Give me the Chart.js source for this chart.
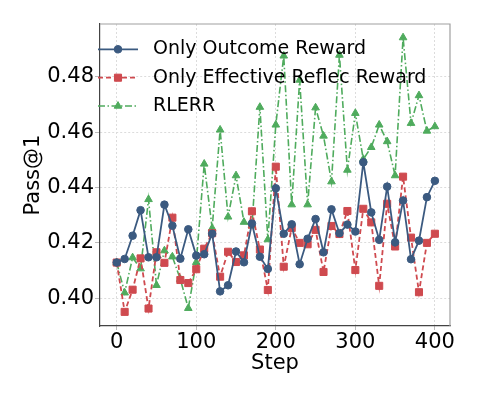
<!DOCTYPE html>
<html><head><meta charset="utf-8">
<script src="https://cdn.jsdelivr.net/npm/chart.js@4/dist/chart.umd.min.js"></script>
<style>html,body{margin:0;padding:0;background:#fff}#wrap{width:478px;height:399px;position:relative}</style>
</head><body><div id="wrap"><canvas id="c" width="478" height="399"></canvas></div>
<script>
const steps = [0,10,20,30,40,50,60,70,80,90,100,110,120,130,140,150,160,170,180,190,200,210,220,230,240,250,260,270,280,290,300,310,320,330,340,350,360,370,380,390,400];
const outcomeReward = [0.4129,0.4142,0.4226,0.4318,0.4148,0.4148,0.4338,0.4262,0.4143,0.4249,0.4154,0.4159,0.4233,0.4025,0.4047,0.4169,0.4130,0.4270,0.4150,0.4106,0.4397,0.4233,0.4267,0.4123,0.4215,0.4286,0.4166,0.4321,0.4235,0.4266,0.4241,0.4491,0.4310,0.4211,0.4403,0.4202,0.4353,0.4141,0.4208,0.4365,0.4424];
const effectiveReward = [0.4129,0.3951,0.4031,0.4144,0.3963,0.4166,0.4128,0.4291,0.4066,0.4055,0.4105,0.4179,0.4235,0.4078,0.4168,0.4131,0.4155,0.4314,0.4176,0.4030,0.4475,0.4114,0.4254,0.4200,0.4195,0.4247,0.4095,0.4261,0.4232,0.4315,0.4102,0.4323,0.4274,0.4045,0.4341,0.4187,0.4439,0.4219,0.4022,0.4200,0.4233];
const rlerr = [0.4129,0.4020,0.4147,0.4107,0.4357,0.4047,0.4172,0.4150,0.4069,0.3964,0.4130,0.4485,0.4253,0.4608,0.4294,0.4443,0.4275,0.4262,0.4690,0.4212,0.4626,0.4875,0.4338,0.4788,0.4338,0.4688,0.4586,0.4421,0.4878,0.4463,0.4668,0.4502,0.4545,0.4626,0.4566,0.4443,0.4941,0.4632,0.4732,0.4604,0.4620];
const seriesNames = ['Only Outcome Reward','Only Effective Reflec Reward','RLERR'];
const xTicks = [0,100,200,300,400];
const yTicks = [0.40,0.42,0.44,0.46,0.48];

const FONT = 'DejaVu Sans';
const pts = arr => steps.map((s,i)=>({x:s,y:arr[i]}));

const legendPlugin = {
  id:'inlineLegend',
  afterDatasetsDraw(chart){
    const {ctx, chartArea:a} = chart;
    const rows = [a.top+25.3, a.top+53.7, a.top+82];
    chart.data.datasets.forEach((ds,i)=>{
      const y = rows[i];
      ctx.save();
      ctx.strokeStyle = ds.borderColor;
      ctx.lineWidth = ds.borderWidth;
      ctx.setLineDash(ds.borderDash||[]);
      ctx.beginPath(); ctx.moveTo(a.left-2,y); ctx.lineTo(a.left+38,y); ctx.stroke();
      ctx.setLineDash([]);
      ctx.fillStyle = ds.backgroundColor; ctx.strokeStyle = ds.borderColor; ctx.lineWidth = 1;
      Chart.helpers.drawPoint(ctx,{pointStyle:ds.pointStyle,radius:ds.pointRadius,borderWidth:1},a.left+18,y);
      ctx.fillStyle = '#000';
      ctx.font = '19px "'+FONT+'"';
      ctx.textBaseline = 'middle';
      ctx.textAlign = 'left';
      ctx.fillText(seriesNames[i], a.left+53, y);
      ctx.restore();
    });
  }
};
const framePlugin = {
  id:'frame',
  beforeDatasetsDraw(chart){
    const {ctx, chartArea:a} = chart;
    ctx.save();
    ctx.strokeStyle = '#a0a0a0'; ctx.lineWidth = 1.2;
    ctx.beginPath(); ctx.moveTo(a.left,a.top); ctx.lineTo(a.right,a.top); ctx.lineTo(a.right,a.bottom); ctx.stroke();
    ctx.restore();
  }
};

new Chart(document.getElementById('c'),{
  type:'line',
  data:{datasets:[
    {label:seriesNames[0],data:pts(outcomeReward),borderColor:'#3b5a80',backgroundColor:'#3b5a80',borderWidth:1.8,pointStyle:'circle',pointRadius:3.8,pointBorderWidth:1,tension:0},
    {label:seriesNames[1],data:pts(effectiveReward),borderColor:'#cf4a4f',backgroundColor:'#cf4a4f',borderWidth:1.8,borderDash:[5,3],pointStyle:'rect',pointRadius:5,pointBorderWidth:1,tension:0},
    {label:seriesNames[2],data:pts(rlerr),borderColor:'#4fab5d',backgroundColor:'#4fab5d',borderWidth:1.6,borderDash:[7,2.5,1.5,2.5],pointStyle:'triangle',pointRadius:4.4,pointBorderWidth:1,tension:0}
  ]},
  options:{
    responsive:false, animation:false, devicePixelRatio:1,
    layout:{padding:{left:0,right:28,top:24,bottom:0}},
    plugins:{legend:{display:false},tooltip:{enabled:false}},
    scales:{
      x:{type:'linear',min:-21,max:419,
        afterBuildTicks:s=>{s.ticks = xTicks.map(v=>({value:v}));},
        afterFit:s=>{s.height = 73;},
        grid:{color:'#dcdcdc',lineWidth:1,tickLength:4,tickColor:'#bbbbbb'},
        border:{color:'#444444',width:1.2,dash:[2,2]},
        ticks:{color:'#000',font:{family:FONT,size:21},padding:0,maxRotation:0,callback:v=>String(v)},
        title:{display:true,text:'Step',color:'#000',font:{family:FONT,size:21},padding:{top:0,bottom:23}}
      },
      y:{type:'linear',min:0.390,max:0.499,
        afterBuildTicks:s=>{s.ticks = yTicks.map(v=>({value:v}));},
        afterFit:s=>{s.width = 100;},
        grid:{color:'#dcdcdc',lineWidth:1,tickLength:5,tickColor:'#bbbbbb'},
        border:{color:'#444444',width:1.2,dash:[2,2]},
        ticks:{color:'#000',font:{family:FONT,size:21},padding:1,callback:v=>v.toFixed(2)},
        title:{display:true,text:'Pass@1',color:'#000',font:{family:FONT,size:21},padding:{top:21,bottom:0}}
      }
    }
  },
  plugins:[framePlugin,legendPlugin]
});
</script></body></html>
